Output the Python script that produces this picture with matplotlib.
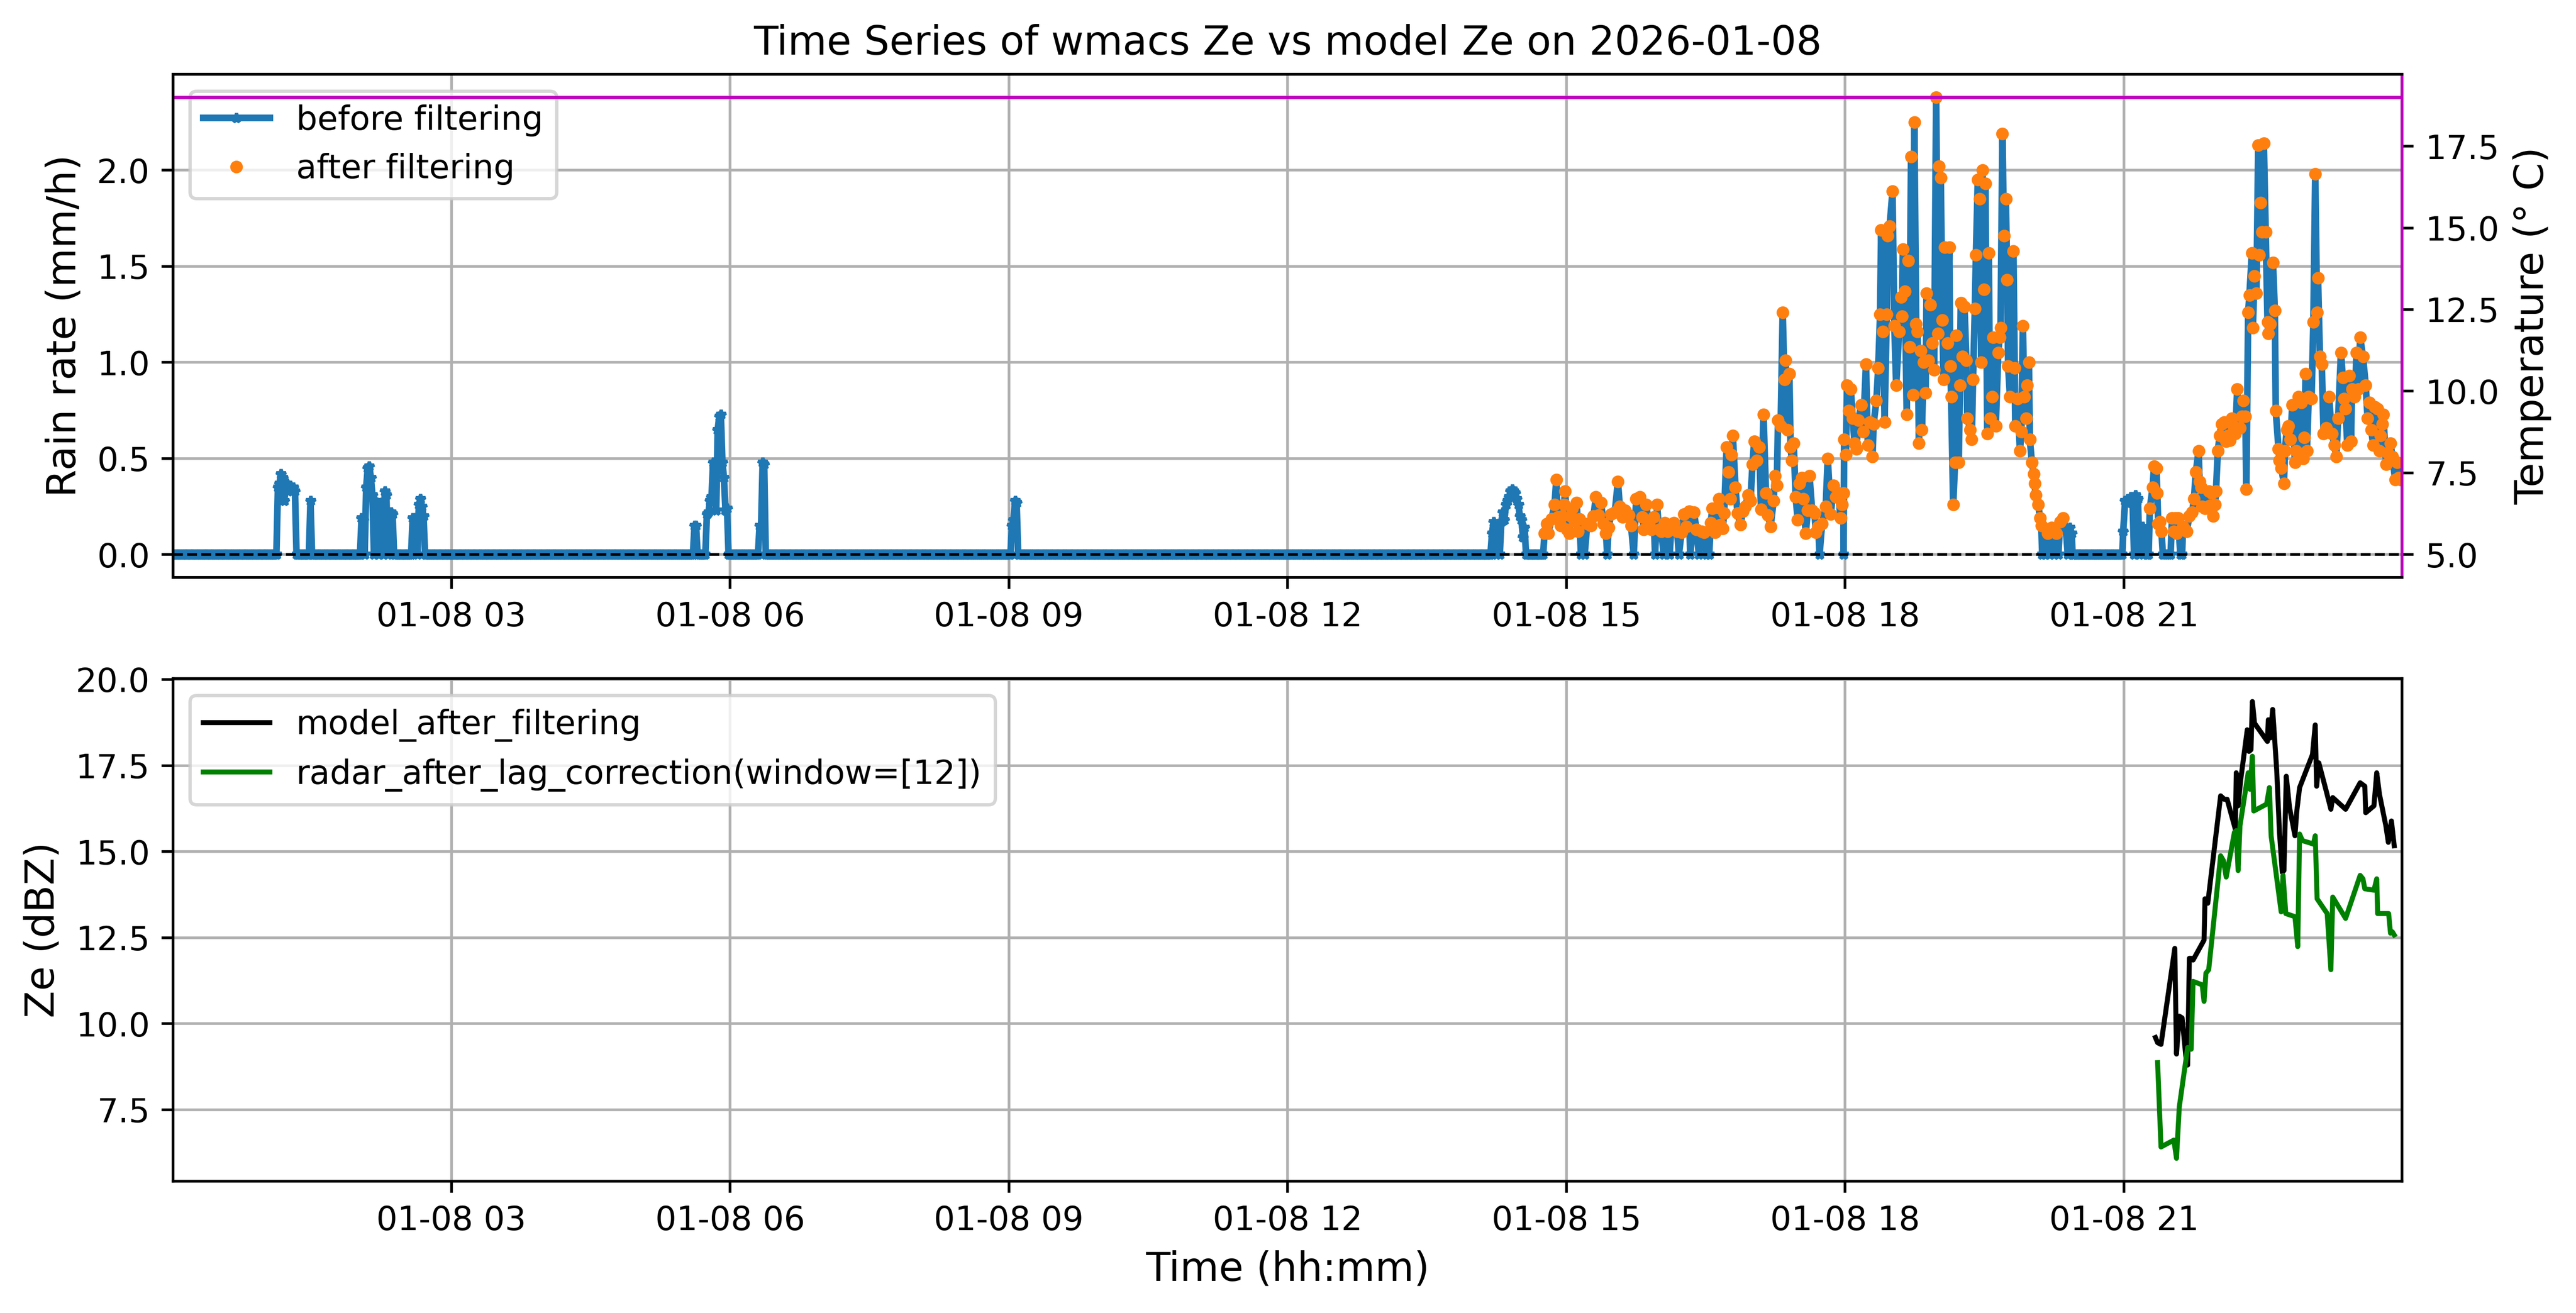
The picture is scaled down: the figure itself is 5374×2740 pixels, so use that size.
import numpy as np
import pandas as pd
import matplotlib
matplotlib.use('Agg')
import matplotlib.pyplot as plt

DAY = pd.Timestamp('2026-01-08')

# Rain-rate events: minutes after midnight, mm/h.
# Rain is zero (1-minute samples) outside these events.
ev_a_t = [68, 69, 70, 71, 72, 73, 74, 75, 76, 77, 78, 79]
ev_a_v = [0.35, 0.37, 0.42, 0.40, 0.28, 0.34, 0.37, 0.36, 0.35, 0.33, 0.35, 0.33]
ev_b_t = [89]
ev_b_v = [0.28]
ev_c_t = list(range(122, 143))
ev_c_v = [0.19, 0.18, 0.0, 0.35, 0.45, 0.46, 0.40, 0.31, 0.0, 0.28, 0.27,
          0.0, 0.26, 0.27, 0.0, 0.33, 0.31, 0.0, 0.20, 0.22, 0.21]
ev_d_t = list(range(155, 163))
ev_d_v = [0.19, 0.18, 0.19, 0.0, 0.26, 0.29, 0.25, 0.20]
ev_e_t = [337, 338]
ev_e_v = [0.15, 0.15]
ev_f_t = list(range(345, 359))
ev_f_v = [0.21, 0.22, 0.28, 0.30, 0.48, 0.45, 0.23, 0.65, 0.72, 0.73, 0.48,
          0.40, 0.23, 0.24]
ev_g_t = [379, 380, 381, 382]
ev_g_v = [0.15, 0.14, 0.48, 0.47]
ev_h_t = [542, 543, 544, 545]
ev_h_v = [0.15, 0.18, 0.28, 0.27]
ev_i_t = list(range(852, 874))
ev_i_v = [0.11, 0.17, 0.12, 0.0, 0.16, 0.0, 0.17, 0.22, 0.18, 0.26, 0.28,
          0.30, 0.33, 0.34, 0.33, 0.32, 0.29, 0.26, 0.20, 0.18, 0.09, 0.14]

ev_j1_t = [885.9, 887.5, 888.3, 890.4, 892.4, 893.5, 894.5, 896.4, 897.2, 898.5,
           899.2, 900.5, 901.8, 902.9, 903.7, 905.4, 906.7, 907.5, 908.6, 909.4,
           911.8, 913.5, 915.9, 917.5, 919.1, 920.8, 922.4, 924.0, 925.6, 926.4,
           927.2, 928.9, 931.3, 933.3, 934.5, 936.2, 937.8, 940.2, 941.8, 943.5,
           945.1, 947.5, 949.1, 950.0, 951.6, 953.2, 954.8, 956.4, 957.3, 958.6,
           959.7, 961.3, 962.9, 963.7, 965.4, 966.7, 967.8, 969.4, 971.5, 972.7,
           974.3, 975.9, 977.5, 979.2, 980.0, 982.4, 984.0, 985.6, 987.3, 988.9,
           990.5, 992.2, 993.3, 994.2, 996.2, 997.8, 998.6, 999.4, 1001.0, 1001.9,
           1003.5, 1004.6, 1005.9, 1006.7, 1007.5, 1009.2, 1010.5, 1012.4, 1014.0, 1015.6,
           1017.3, 1018.9, 1020.2, 1021.3, 1023.0, 1024.6, 1025.7, 1027.3, 1028.9, 1030.2,
           1031.9, 1033.8, 1034.8, 1035.9, 1036.7, 1038.4, 1039.7, 1040.8, 1041.6, 1042.9,
           1044.0, 1044.8, 1045.6, 1046.8, 1048.1, 1049.4, 1050.5, 1052.1, 1053.0, 1054.6,
           1055.9, 1057.0, 1058.7, 1060.3, 1061.1, 1062.7, 1063.5, 1065.1, 1067.5, 1068.8,
           1070.8, 1072.4, 1074.0, 1075.7, 1077.0, 1078.1, 1078.9]
ev_j1_v = [0.11, 0.16, 0.11, 0.185, 0.26, 0.39, 0.195, 0.15, 0.20, 0.26,
           0.33, 0.13, 0.11, 0.20, 0.24, 0.175, 0.27, 0.12, 0.185, 0.0,
           0.0, 0.16, 0.15, 0.20, 0.30, 0.205, 0.27, 0.16, 0.11, 0.0,
           0.14, 0.21, 0.22, 0.38, 0.25, 0.195, 0.23, 0.205, 0.15, 0.0,
           0.29, 0.30, 0.195, 0.13, 0.26, 0.16, 0.13, 0.195, 0.0, 0.26,
           0.13, 0.12, 0.0, 0.165, 0.12, 0.0, 0.145, 0.165, 0.12, 0.0,
           0.115, 0.21, 0.145, 0.225, 0.0, 0.22, 0.13, 0.0, 0.12, 0.115,
           0.0, 0.0, 0.165, 0.24, 0.115, 0.245, 0.29, 0.155, 0.135, 0.215,
           0.56, 0.43, 0.29, 0.52, 0.62, 0.35, 0.215, 0.155, 0.225, 0.25,
           0.31, 0.28, 0.47, 0.59, 0.49, 0.56, 0.235, 0.73, 0.32, 0.205,
           0.145, 0.28, 0.41, 0.36, 0.70, 0.67, 1.26, 0.91, 1.01, 0.65,
           0.94, 0.56, 0.49, 0.58, 0.30, 0.18, 0.37, 0.40, 0.29, 0.11,
           0.23, 0.41, 0.23, 0.215, 0.115, 0.145, 0.0, 0.16, 0.25, 0.50,
           0.21, 0.36, 0.30, 0.32, 0.19, 0.26, 0.32]

ev_j2_t = [1079.4, 1080.6, 1081.2, 1082.4, 1083.7, 1084.9, 1086.1, 1087.3, 1088.6, 1090.4,
           1091.6, 1093.5, 1094.7, 1095.9, 1097.7, 1098.4, 1100.2, 1101.4, 1102.6, 1103.3,
           1104.5, 1105.5, 1106.9, 1107.5, 1108.8, 1110.6, 1111.8, 1113.0, 1114.9, 1116.1,
           1116.7, 1117.3, 1118.6, 1119.8, 1120.8, 1121.6, 1122.6, 1123.8, 1124.7, 1125.9,
           1126.8, 1127.7, 1128.7, 1129.6, 1130.8, 1132.0, 1132.6, 1133.9, 1135.1, 1136.3,
           1137.5, 1138.8, 1140.0, 1140.6, 1141.8, 1142.8, 1143.6, 1144.3, 1146.1, 1147.3,
           1147.9, 1148.5, 1149.8, 1151.0, 1151.6, 1153.4, 1154.1, 1154.7, 1155.9, 1157.1,
           1158.3, 1158.9, 1160.8, 1161.8, 1162.6, 1163.8, 1164.5, 1165.7, 1166.9, 1167.9,
           1168.7, 1169.6, 1170.6, 1171.8, 1172.8, 1173.6, 1174.9, 1175.5, 1177.3, 1178.9,
           1179.8, 1180.4, 1181.6, 1182.6, 1183.8, 1184.7, 1185.3, 1186.5, 1188.7, 1189.5,
           1189.9, 1191.4, 1192.9, 1193.8, 1194.8, 1195.7, 1196.9, 1197.7, 1198.7, 1199.3,
           1200.6, 1201.8, 1202.4, 1203.0, 1204.8, 1205.8, 1206.7, 1207.3, 1209.0, 1211.0,
           1212.2, 1213.4, 1215.0, 1216.5, 1217.7, 1218.9, 1220.8, 1222.6, 1223.8, 1225.0,
           1226.3, 1226.9]
ev_j2_v = [0.60, 0.52, 0.88, 0.75, 0.86, 0.71, 0.58, 0.55, 0.70, 0.78,
           0.64, 0.99, 0.57, 0.69, 0.51, 0.68, 0.80, 0.97, 1.25, 1.69,
           1.16, 0.69, 1.25, 1.66, 1.71, 1.89, 1.19, 0.88, 1.16, 1.34,
           1.24, 1.59, 1.37, 0.73, 1.53, 1.08, 2.07, 0.83, 2.25, 1.20,
           1.16, 0.58, 1.06, 0.65, 1.00, 0.84, 1.36, 1.01, 1.30, 1.10,
           0.96, 2.38, 1.15, 2.02, 1.96, 1.22, 0.91, 1.60, 1.10, 1.60,
           0.98, 0.82, 0.26, 0.48, 1.14, 0.48, 0.88, 1.31, 1.03, 1.29,
           1.01, 0.71, 0.65, 0.60, 0.91, 1.28, 1.56, 1.95, 1.85, 1.00,
           2.00, 1.38, 1.93, 0.63, 1.57, 0.71, 0.82, 1.13, 0.67, 1.05,
           1.13, 1.18, 2.19, 1.66, 1.85, 1.43, 0.98, 0.82, 1.58, 0.97,
           0.67, 0.81, 0.54, 0.64, 1.19, 0.82, 0.71, 0.88, 1.00, 0.60,
           0.48, 0.42, 0.37, 0.31, 0.26, 0.19, 0.15, 0.0, 0.0, 0.11,
           0.0, 0.14, 0.0, 0.11, 0.0, 0.17, 0.19, 0.13, 0.0, 0.14,
           0.11, 0.0]

ev_k_t = [1259.6, 1260.8, 1262.0, 1263.2, 1264.4, 1265.6, 1266.6, 1267.4, 1268.3,
          1269.1, 1270.0, 1270.9, 1272.1, 1273.3, 1274.5]
ev_k_v = [0.12, 0.28, 0.27, 0.29, 0.30, 0.29, 0.0, 0.31, 0.28,
          0.29, 0.0, 0.13, 0.145, 0.11, 0.0]

ev_l_t = [1276.8, 1278.6, 1279.5, 1281.0, 1281.6, 1282.2, 1283.4, 1284.3, 1285.2, 1286.5,
          1287.7, 1289.0, 1290.2, 1291.1, 1292.3, 1293.2, 1294.0, 1295.0, 1296.5, 1297.6,
          1298.2, 1299.4, 1300.6, 1302.3, 1304.1, 1305.3, 1306.5, 1308.3, 1308.9, 1310.0,
          1310.6, 1312.4, 1314.8, 1315.4, 1316.6, 1317.8, 1318.9, 1319.5, 1320.7, 1321.9,
          1323.1, 1324.9, 1326.1, 1327.2, 1328.4, 1329.6, 1330.8, 1332.0, 1333.2, 1334.9,
          1336.1, 1337.3, 1338.5, 1339.1, 1340.3, 1341.1, 1342.7, 1343.3, 1344.4, 1345.6,
          1346.8, 1347.4, 1348.2, 1349.2, 1350.4, 1351.6, 1352.8, 1353.3, 1354.5, 1356.3,
          1357.5, 1358.1, 1359.9, 1360.5, 1361.7, 1363.4, 1364.0, 1365.2, 1366.4, 1367.6,
          1368.8, 1370.5, 1371.1, 1372.9, 1374.7, 1375.9, 1376.5, 1377.4, 1378.2, 1379.4,
          1381.2, 1382.4, 1383.6, 1384.8, 1385.4, 1386.6, 1387.8, 1389.0, 1390.7, 1392.5,
          1394.3, 1396.0, 1397.2, 1398.4, 1400.2, 1401.4, 1402.3, 1403.2, 1404.3, 1405.5,
          1406.7, 1407.3, 1409.1, 1410.3, 1411.5, 1412.6, 1414.4, 1416.2, 1417.4, 1418.6,
          1419.8, 1421.0, 1422.1, 1423.9, 1425.1, 1425.7, 1426.9, 1427.5, 1429.4, 1430.4,
          1432.2, 1433.4, 1435.2, 1436.4, 1437.6, 1438.8, 1439.9]
ev_l_v = [0.24, 0.35, 0.46, 0.45, 0.32, 0.16, 0.17, 0.12, 0.0, 0.0,
          0.0, 0.0, 0.0, 0.19, 0.12, 0.19, 0.11, 0.19, 0.0, 0.0,
          0.145, 0.13, 0.12, 0.20, 0.22, 0.29, 0.43, 0.54, 0.38, 0.35,
          0.25, 0.24, 0.33, 0.255, 0.32, 0.20, 0.26, 0.33, 0.54, 0.62,
          0.68, 0.69, 0.59, 0.62, 0.595, 0.71, 0.67, 0.63, 0.86, 0.66,
          0.72, 0.80, 0.72, 0.34, 1.26, 1.35, 1.57, 1.18, 1.45, 1.36,
          2.13, 1.56, 1.83, 1.68, 2.14, 1.68, 1.21, 1.15, 1.20, 1.52,
          1.27, 0.75, 0.55, 0.49, 0.45, 0.37, 0.54, 0.65, 0.67, 0.60,
          0.78, 0.48, 0.54, 0.82, 0.79, 0.50, 0.61, 0.94, 0.54, 0.82,
          0.81, 1.21, 1.98, 1.26, 1.44, 1.03, 0.99, 0.63, 0.66, 0.82,
          0.63, 0.57, 0.51, 0.71, 1.05, 0.92, 0.81, 0.76, 0.57, 0.93,
          0.59, 0.86, 0.82, 1.05, 0.86, 1.13, 1.03, 0.88, 0.71, 0.79,
          0.65, 0.57, 0.77, 0.76, 0.54, 0.62, 0.68, 0.73, 0.47, 0.53,
          0.58, 0.51, 0.39, 0.48, 0.40, 0.39, 0.40]

# time windows (minutes) where the filter keeps the samples
keep_windows = [(884, 1221), (1275, 1441)]

# temperature (hourly, degC) and threshold
temp_hours = list(range(25))
temp_vals = [19.0] * 25
temp_threshold = 5.0

# Ze series, bottom panel (minutes after midnight, dBZ)
model_t = [1280.4, 1281.8, 1284.0, 1292.9, 1294.0, 1295.8, 1297.6, 1300.0, 1301.2, 1302.3,
           1303.5, 1304.7, 1311.8, 1312.4, 1314.2, 1322.5, 1324.9, 1326.7, 1332.0, 1332.6,
           1333.8, 1335.5, 1339.7, 1340.8, 1342.1, 1343.0, 1344.4, 1352.7, 1353.3, 1354.5,
           1356.1, 1358.7, 1360.5, 1362.3, 1363.4, 1364.9, 1367.0, 1370.5, 1371.7, 1373.5,
           1381.8, 1383.6, 1384.5, 1385.9, 1390.7, 1393.7, 1394.9, 1403.2, 1412.6, 1415.6,
           1416.2, 1421.5, 1423.3, 1425.1, 1429.2, 1430.8, 1432.8, 1434.6]
model_ze = [9.60, 9.45, 9.40, 12.19, 9.12, 10.22, 10.17, 9.07, 8.80, 11.90,
            11.90, 11.85, 12.43, 13.63, 13.50, 16.62, 16.52, 16.52, 15.65, 17.29,
            16.33, 17.10, 18.54, 17.91, 17.96, 19.36, 18.73, 18.20, 18.83, 18.30,
            19.13, 17.38, 15.56, 14.40, 14.45, 17.19, 16.28, 15.46, 16.18, 16.86,
            17.82, 18.68, 16.90, 17.58, 16.76, 16.23, 16.57, 16.23, 17.00, 16.90,
            16.13, 16.33, 17.29, 16.66, 15.75, 15.27, 15.89, 15.17]
radar_t = [1281.8, 1284.0, 1292.3, 1294.0, 1295.8, 1301.2, 1303.5, 1304.7, 1310.6, 1311.8,
           1313.0, 1314.8, 1322.5, 1324.3, 1326.1, 1331.4, 1332.6, 1333.8, 1335.0, 1340.3,
           1341.5, 1343.0, 1343.9, 1352.2, 1354.0, 1355.1, 1361.6, 1362.8, 1364.6, 1370.5,
           1372.3, 1373.5, 1375.3, 1382.4, 1383.6, 1384.8, 1391.3, 1393.7, 1394.9, 1403.2,
           1412.6, 1414.4, 1415.6, 1421.5, 1423.3, 1423.9, 1431.0, 1432.2, 1433.4, 1434.6]
radar_ze = [8.87, 6.42, 6.62, 6.09, 7.58, 9.31, 9.26, 11.23, 11.13, 10.65,
            11.47, 11.57, 14.88, 14.74, 14.26, 15.56, 15.61, 14.45, 15.75, 17.29,
            16.81, 17.77, 16.18, 16.38, 16.86, 15.46, 13.25, 14.31, 13.20, 13.11,
            12.24, 15.51, 15.32, 15.22, 15.46, 13.63, 13.20, 11.57, 13.68, 13.06,
            14.31, 14.21, 13.92, 13.88, 14.21, 13.20, 13.20, 12.63, 12.67, 12.58]


def to_time(minutes):
    return (DAY + pd.to_timedelta(np.asarray(minutes, dtype=float), unit='min')).to_numpy()


def build_rain_series():
    """
    Combine the rain events with 1-minute zero samples between them.
    """
    events = [(ev_a_t, ev_a_v), (ev_b_t, ev_b_v), (ev_c_t, ev_c_v), (ev_d_t, ev_d_v),
              (ev_e_t, ev_e_v), (ev_f_t, ev_f_v), (ev_g_t, ev_g_v), (ev_h_t, ev_h_v),
              (ev_i_t, ev_i_v), (ev_j1_t, ev_j1_v), (ev_j2_t, ev_j2_v),
              (ev_k_t, ev_k_v), (ev_l_t, ev_l_v)]
    spans = [(min(t), max(t)) for t, _ in events]
    dry = [m for m in range(0, 1441) if not any(a <= m <= b for a, b in spans)]
    t_all = np.concatenate([np.array(dry, dtype=float)] + [np.array(t, dtype=float) for t, _ in events])
    v_all = np.concatenate([np.zeros(len(dry))] + [np.array(v, dtype=float) for _, v in events])
    order = np.argsort(t_all)
    return t_all[order], v_all[order]


rain_min, rain = build_rain_series()
keep = np.zeros(len(rain_min), dtype=bool)
for a, b in keep_windows:
    keep |= (rain_min >= a) & (rain_min <= b)
keep &= rain > 0

rain_time = to_time(rain_min)
x_lo, x_hi = to_time([0.3, 1439.7])

fig = plt.figure(figsize=(5374 / 500, 2740 / 500), dpi=500)
ax = fig.add_axes([0.0672, 0.5602, 0.8653, 0.3832])
axz = fig.add_axes([0.0672, 0.1004, 0.8653, 0.3827])

# top panel: rain rate and temperature
ax.plot(rain_time, rain, marker='*', markersize=3, lw=2, color='C0', label='before filtering')
ax.plot(rain_time[keep], rain[keep], 'o', markersize=2.8, color='C1', label='after filtering')
ax.set_ylabel('Rain rate (mm/h)', fontsize=12)
ax.set_title('Time Series of wmacs Ze vs model Ze on 2026-01-08', fontsize=12)
ax.grid(True)
ax.legend(loc='upper left', fontsize=10)

ax2 = ax.twinx()
ax2.plot(to_time(np.array(temp_hours) * 60), temp_vals, color='m', lw=1)
ax2.axhline(temp_threshold, color='k', ls='--', lw=0.8)
ax2.set_ylabel('Temperature (° C)', fontsize=12)
ax2.spines['right'].set_color('m')

# bottom panel: reflectivity
axz.plot(to_time(model_t), model_ze, color='k', label='model_after_filtering')
axz.plot(to_time(radar_t), radar_ze, color='g', label='radar_after_lag_correction(window=[12])')
axz.set_ylabel('Ze (dBZ)', fontsize=12)
axz.set_xlabel('Time (hh:mm)', fontsize=12)
axz.grid(True)
axz.legend(loc='upper left', fontsize=10)

for a in (ax, axz):
    a.set_xlim(x_lo, x_hi)

fig.savefig('out.png', dpi=500)
plt.close(fig)
